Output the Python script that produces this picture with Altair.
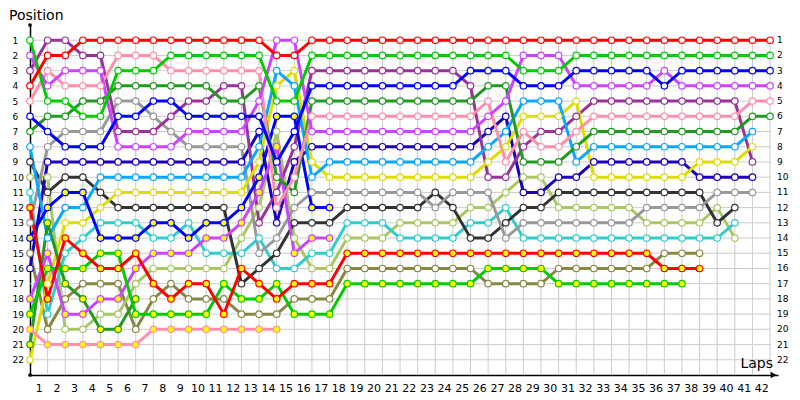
import altair as alt
import pandas as pd

# ---------------- data (positions per lap, lap 0 = grid) ----------------
LAP_TICKS = list(range(1, 43))
ROWS = list(range(1, 23))

RED = [4,2,2,1,1,1,1,1,1,1, 1,1,1,1,2,2,1,1,1,1, 1,1,1,1,1,1,1,1,1,1, 1,1,1,1,1,1,1,1,1,1, 1,1,1]
GRN = [1,5,5,6,6,3,3,3,2,2, 2,2,2,2,5,5,2,2,2,2, 2,2,2,2,2,2,2,2,3,3, 3,2,2,2,2,2,2,2,2,2, 2,2,2]
BLU = [6,7,8,8,8,6,6,5,5,6, 6,6,6,6,9,7,4,4,4,4, 4,4,4,4,4,3,3,3,4,4, 4,3,3,3,3,3,4,3,3,3, 3,3,3]
MAG = [2,4,3,3,3,8,8,8,8,7, 7,7,7,5,1,1,7,7,7,7, 7,7,7,7,7,7,6,5,2,2, 2,4,4,4,4,4,3,4,4,4, 4,4,4]
PNK = [5,3,4,4,4,2,2,2,3,3, 3,3,3,3,12,10,6,6,6,6, 6,6,6,6,6,6,5,9,7,8, 8,7,6,6,6,6,6,6,6,6, 6,5,5]
DGR = [7,6,6,5,5,4,4,4,4,4, 4,5,5,4,10,11,5,5,5,5, 5,5,5,5,5,5,4,4,9,9, 9,8,7,7,7,7,7,7,7,7, 7,6,6]
LBL = [8,14,12,12,10,10,10,10,10,10, 10,10,10,8,3,4,10,9,9,9, 9,9,9,9,9,9,8,7,5,5, 5,9,8,8,8,8,8,8,8,8, 8,7]
YEL = [22,17,13,13,12,11,11,11,11,11, 11,11,11,9,4,3,9,10,10,10, 10,10,10,10,10,10,9,8,6,6, 6,5,10,10,10,10,10,10,9,9, 9,8]
PUR = [3,1,1,2,2,7,7,7,6,5, 5,4,4,13,11,8,3,3,3,3, 3,3,3,3,3,4,10,10,8,7, 7,6,5,5,5,5,5,5,5,5, 5,9]
DBL = [16,9,9,9,9,9,9,9,9,9, 9,9,9,7,13,9,8,8,8,8, 8,8,8,8,8,8,7,6,11,11, 10,10,9,9,9,9,9,9,10,10, 10,10]
GRY = [13,8,7,7,7,5,5,6,7,8, 8,8,8,15,14,12,11,11,11,11, 11,11,11,12,11,11,11,14,13,13, 13,13,13,13,13,12,12,12,12,11, 11,11]
BLK = [9,11,10,10,11,12,12,12,12,12, 12,12,17,16,15,13,13,13,12,12, 12,12,12,11,12,14,14,13,12,12, 11,11,11,11,11,11,11,11,11,13, 12]
LOL = [10,10,20,20,19,19,17,16,16,16, 16,16,14,12,7,14,16,16,14,14, 14,13,13,13,13,12,12,11,10,10, 12,12,12,12,12,13,13,13,13,12, 14]
CYN = [11,19,15,14,13,13,13,14,14,13, 15,15,15,14,16,16,15,15,13,13, 13,14,14,14,14,13,13,12,14,14, 14,14,14,14,14,14,14,14,14,14, 13]
OLV = [15,20,18,17,17,17,20,18,17,18, 18,18,19,19,19,18,18,18,16,16, 16,16,16,16,16,16,17,17,17,17, 16,16,16,16,16,16,15,15,15]
RED2 = [12,18,14,15,16,16,15,17,18,17, 17,19,16,17,18,17,17,17,15,15, 15,15,15,15,15,15,15,15,15,15, 15,15,15,15,15,15,16,16,16]
GRN2 = [19,16,16,16,15,15,19,19,19,19, 19,17,18,18,17,19,19,19,17,17, 17,17,17,17,17,17,16,16,16,16, 17,17,17,17,17,17,17,17]
BLU2 = [14,12,11,11,14,14,14,13,13,14, 13,13,12,10,6,6,12,12]
MAG2 = [18,15,19,19,18,18,16,15,15,15, 14,14,13,11,8,15,14,14]
PNK2 = [20,21,21,21,21,21,21,20,20,20, 20,20,20,20,20]
DGR2 = [21,13,17,18,20,20,18]

NAMES = ["OLV", "LOL", "CYN", "BLK", "GRY", "DBL", "PUR", "YEL", "LBL",
         "DGR2", "PNK2", "MAG2", "BLU2", "GRN2", "RED2",
         "DGR", "PNK", "MAG", "BLU", "GRN", "RED"]
SERIES = [OLV, LOL, CYN, BLK, GRY, DBL, PUR, YEL, LBL,
          DGR2, PNK2, MAG2, BLU2, GRN2, RED2,
          DGR, PNK, MAG, BLU, GRN, RED]
COLORS = ["#888844", "#a8c864", "#33cccc", "#333333", "#999999", "#1a00bb", "#993399", "#dddd00", "#0aa6ff",
          "#229922", "#ff8fab", "#cc44ff", "#0000ff", "#00cc00", "#ff0000",
          "#229922", "#ff8fab", "#cc44ff", "#0000ff", "#00cc00", "#ff0000"]
FILLS = ["white"] * 9 + ["#ffff00"] * 6 + ["white"] * 6

records = []
for order, (name, pos, col, fil) in enumerate(zip(NAMES, SERIES, COLORS, FILLS)):
    for lap, p in enumerate(pos):
        records.append({"driver": name, "lap": lap, "pos": p, "col": col, "fil": fil, "ord": order})
df = pd.DataFrame(records)

hgrid = pd.DataFrame({"pos": ROWS, "x0": [0] * len(ROWS), "x1": [42] * len(ROWS)})
vgrid = pd.DataFrame({"lap": LAP_TICKS, "y0": [1] * len(LAP_TICKS), "y1": [23] * len(LAP_TICKS)})
right_labels = pd.DataFrame({"pos": ROWS, "lap": [42] * len(ROWS), "txt": [str(r) for r in ROWS]})

XMAX = 42.45
xs = alt.Scale(domain=[0, XMAX], nice=False, zero=False)
ys = alt.Scale(domain=[0, 23], reverse=True, nice=False, zero=False)

xaxis = alt.Axis(values=LAP_TICKS, labelOffset=-8.8, ticks=False, labelPadding=7,
                 domainColor="black", domainWidth=1.5, labelFont="DejaVu Sans",
                 labelFontSize=11, labelColor="black", grid=False, title=None,
                 labelFlush=False, labelOverlap=False, format="d")
yaxis = alt.Axis(values=ROWS, labelAlign="left", labelPadding=18, ticks=False,
                 domainColor="black", domainWidth=1.5, labelFont="DejaVu Sans",
                 labelFontSize=9, labelColor="black", grid=False, title=None,
                 labelFlush=False, labelOverlap=False, labelBaseline="middle", format="d")

def X(f):
    return alt.X(f, type="quantitative", scale=xs, axis=xaxis)

def Y(f):
    return alt.Y(f, type="quantitative", scale=ys, axis=yaxis)

hg = alt.Chart(hgrid).mark_rule(color="#cccccc", strokeWidth=1).encode(
    y=Y("pos"), x=X("x0"), x2="x1")
vg = alt.Chart(vgrid).mark_rule(color="#cccccc", strokeWidth=1).encode(
    x=X("lap"), y=Y("y0"), y2="y1")

lines = alt.Chart(df).mark_line(strokeWidth=3).encode(
    x=X("lap"), y=Y("pos"),
    color=alt.Color("col:N", scale=None),
    detail="driver:N",
    order="lap:Q")

points = alt.Chart(df).mark_point(shape="circle", size=42, filled=True, strokeWidth=1.2,
                                   opacity=1, fillOpacity=1, strokeOpacity=1).encode(
    x=X("lap"), y=Y("pos"),
    stroke=alt.Stroke("col:N", scale=None),
    fill=alt.Fill("fil:N", scale=None),
    detail="driver:N")

rlab = alt.Chart(right_labels).mark_text(align="left", baseline="middle", dx=7,
                                          font="DejaVu Sans", fontSize=9, color="black").encode(
    x=X("lap"), y=Y("pos"), text="txt:N")

marks = pd.DataFrame({"lap": [0, 0], "pos": [0, 23]})
dots = alt.Chart(marks).mark_point(shape="circle", size=14, filled=True, color="black", opacity=1).encode(
    x=X("lap"), y=Y("pos"))

arrow_df = pd.DataFrame({"lap": [42.2], "pos": [23]})
arrow = alt.Chart(arrow_df).mark_point(shape="triangle-right", size=45, filled=True,
                                       color="black", opacity=1).encode(x=X("lap"), y=Y("pos"))

laps_df = pd.DataFrame({"lap": [XMAX], "pos": [23], "txt": ["Laps"]})
laps_txt = alt.Chart(laps_df).mark_text(align="right", baseline="bottom", dx=-5, dy=-4,
                                        font="DejaVu Sans", fontSize=14, color="black").encode(
    x=X("lap"), y=Y("pos"), text="txt:N")

pos_df = pd.DataFrame({"lap": [0], "pos": [0], "txt": ["Position"]})
pos_txt = alt.Chart(pos_df).mark_text(align="left", baseline="alphabetic", dx=-21, dy=-5,
                                      font="DejaVu Sans", fontSize=14, color="black").encode(
    x=X("lap"), y=Y("pos"), text="txt:N")

chart = alt.layer(hg, vg, lines, points, rlab, dots, arrow, laps_txt, pos_txt).properties(
    width=748, height=350,
    autosize=alt.AutoSizeParams(type="none"),
    padding={"left": 22, "top": 17, "right": 14, "bottom": 20},
    background="white",
).configure_view(stroke=None)

chart.save("out.html", embed_options={"renderer": "svg", "actions": False})
